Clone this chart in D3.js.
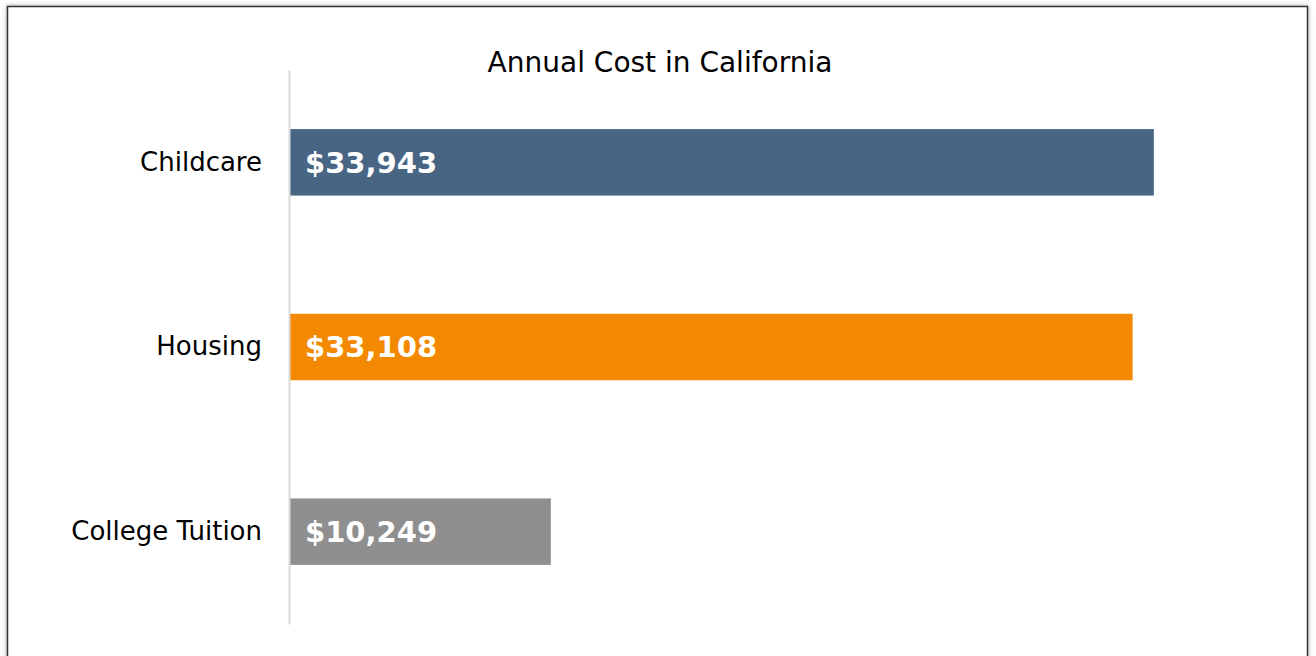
<!DOCTYPE html>
<html>
<head>
<meta charset="utf-8">
<script src="https://cdn.jsdelivr.net/npm/d3@7"></script>
<style>
  body { margin: 0; background: #fff; }
  svg { display: block; }
</style>
</head>
<body>
<svg id="drawing_region"></svg>
<script>
// data
const categories = ['Childcare', 'Housing', 'College Tuition'];
const costs = [33943, 33108, 10249];
const barColors = ['#486684', '#f28900', '#8f8f8f'];
const chartTitle = 'Annual Cost in California';

const width = 1316, height = 656;

const svg = d3.select('#drawing_region')
    .attr('width', width)
    .attr('height', height);

// frame with soft shadow
const defs = svg.append('defs');
const shadow = defs.append('filter').attr('id', 'shadow')
    .attr('x', '-5%').attr('y', '-5%').attr('width', '110%').attr('height', '110%');
shadow.append('feDropShadow')
    .attr('dx', 0).attr('dy', 0)
    .attr('stdDeviation', 2.5)
    .attr('flood-color', '#000')
    .attr('flood-opacity', 0.35);

svg.append('rect')
    .attr('x', 7.5).attr('y', 6.5)
    .attr('width', 1300).attr('height', 700)
    .attr('fill', '#fff')
    .attr('stroke', '#333')
    .attr('stroke-width', 1.5)
    .attr('filter', 'url(#shadow)');

// scales
const xscale = d3.scaleLinear()
    .domain([0, 40000])
    .range([290, 1308]);

const yscale = d3.scaleBand()
    .domain(categories)
    .range([70, 624])
    .paddingInner(0.64)
    .paddingOuter(0.32);

// title
svg.append('text')
    .attr('x', 660)
    .attr('y', 72)
    .attr('text-anchor', 'middle')
    .style('font-family', 'DejaVu Sans, sans-serif')
    .style('font-size', '28px')
    .style('fill', '#000')
    .text(chartTitle);

// bars
svg.append('g').selectAll('rect')
    .data(categories)
    .enter()
    .append('rect')
    .attr('x', xscale(0))
    .attr('y', d => yscale(d))
    .attr('width', (d, i) => xscale(costs[i]) - xscale(0))
    .attr('height', yscale.bandwidth())
    .attr('fill', (d, i) => barColors[i]);

// value labels inside bars
svg.append('g').selectAll('text')
    .data(categories)
    .enter()
    .append('text')
    .attr('x', xscale(0) + 15)
    .attr('y', d => yscale(d) + yscale.bandwidth() / 2)
    .attr('dy', '0.36em')
    .style('font-family', 'DejaVu Sans, sans-serif')
    .style('font-weight', 'bold')
    .style('font-size', '29px')
    .style('fill', '#fff')
    .text((d, i) => d3.format('$,')(costs[i]));

// category axis
const yaxis = d3.axisLeft(yscale).tickSize(0).tickPadding(27);
const yaxis_group = svg.append('g')
    .attr('transform', `translate(${xscale(0) - 1}, 0)`)
    .call(yaxis);

yaxis_group.select('.domain')
    .attr('stroke', '#d9d9d9')
    .attr('stroke-width', 2);

yaxis_group.selectAll('text')
    .style('font-family', 'DejaVu Sans, sans-serif')
    .style('font-size', '26px')
    .style('fill', '#000');
</script>
</body>
</html>
